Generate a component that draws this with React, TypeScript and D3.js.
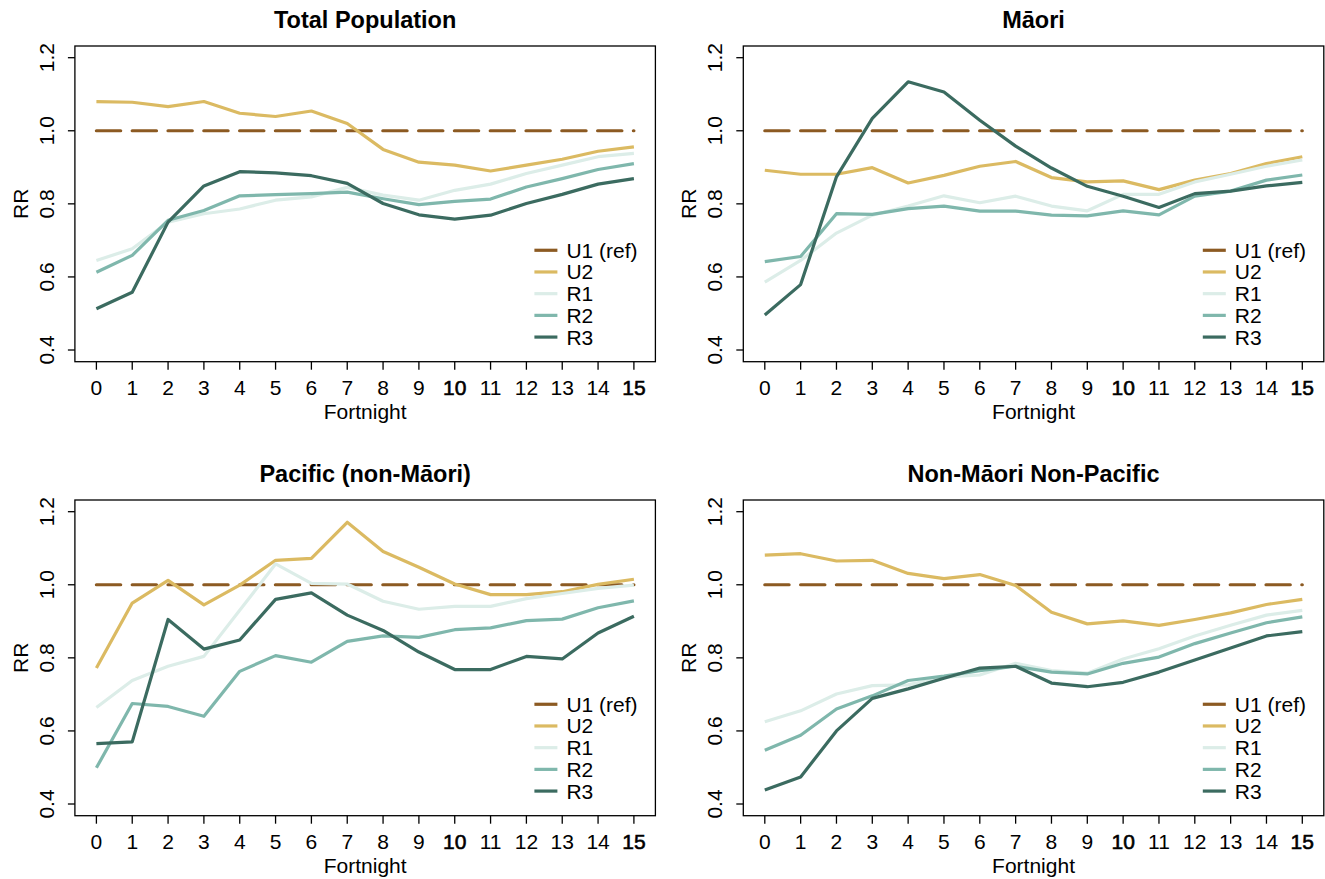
import React from "react";
import * as d3 from "d3";

const fortnights = [0, 1, 2, 3, 4, 5, 6, 7, 8, 9, 10, 11, 12, 13, 14, 15];
const yTicks = [0.4, 0.6, 0.8, 1.0, 1.2];
const seriesNames = ["U1 (ref)", "U2", "R1", "R2", "R3"];
const seriesColors = ["#8C5A22", "#DBBA62", "#DCEDE8", "#7FB7AC", "#3B6B60"];
const panelTitles = ["Total Population", "Māori", "Pacific (non-Māori)", "Non-Māori Non-Pacific"];

const refU1 = [1, 1, 1, 1, 1, 1, 1, 1, 1, 1, 1, 1, 1, 1, 1, 1];

const totalU2 = [1.080, 1.078, 1.066, 1.080, 1.048, 1.039, 1.054, 1.020, 0.949, 0.914, 0.906, 0.890, 0.906, 0.922, 0.944, 0.956];
const totalR1 = [0.645, 0.677, 0.750, 0.773, 0.786, 0.810, 0.819, 0.845, 0.824, 0.810, 0.837, 0.854, 0.883, 0.906, 0.929, 0.938];
const totalR2 = [0.613, 0.659, 0.755, 0.782, 0.822, 0.825, 0.828, 0.832, 0.814, 0.798, 0.807, 0.813, 0.846, 0.869, 0.894, 0.910];
const totalR3 = [0.513, 0.558, 0.750, 0.849, 0.888, 0.885, 0.877, 0.856, 0.801, 0.770, 0.758, 0.769, 0.801, 0.826, 0.854, 0.869];

const maoriU2 = [0.892, 0.881, 0.881, 0.899, 0.857, 0.878, 0.903, 0.916, 0.872, 0.860, 0.863, 0.839, 0.865, 0.883, 0.910, 0.929];
const maoriR1 = [0.586, 0.645, 0.720, 0.769, 0.794, 0.822, 0.803, 0.821, 0.794, 0.781, 0.826, 0.826, 0.860, 0.881, 0.903, 0.920];
const maoriR2 = [0.642, 0.656, 0.773, 0.771, 0.787, 0.794, 0.780, 0.780, 0.769, 0.767, 0.781, 0.770, 0.821, 0.835, 0.865, 0.879];
const maoriR3 = [0.496, 0.579, 0.874, 1.034, 1.134, 1.106, 1.029, 0.958, 0.898, 0.848, 0.821, 0.790, 0.828, 0.835, 0.849, 0.859];

const pacificU2 = [0.772, 0.950, 1.012, 0.945, 0.999, 1.067, 1.072, 1.171, 1.091, 1.048, 1.002, 0.973, 0.973, 0.981, 1.001, 1.015];
const pacificR1 = [0.664, 0.738, 0.777, 0.804, 0.930, 1.057, 1.004, 1.002, 0.955, 0.933, 0.941, 0.941, 0.962, 0.976, 0.990, 0.999];
const pacificR2 = [0.499, 0.675, 0.667, 0.640, 0.763, 0.806, 0.788, 0.845, 0.860, 0.856, 0.877, 0.882, 0.902, 0.906, 0.937, 0.956];
const pacificR3 = [0.565, 0.570, 0.905, 0.824, 0.849, 0.960, 0.978, 0.917, 0.875, 0.816, 0.768, 0.768, 0.804, 0.797, 0.868, 0.914];

const nmnpU2 = [1.081, 1.085, 1.065, 1.067, 1.031, 1.017, 1.028, 0.998, 0.925, 0.893, 0.901, 0.889, 0.905, 0.923, 0.946, 0.960];
const nmnpR1 = [0.625, 0.655, 0.701, 0.724, 0.726, 0.747, 0.753, 0.785, 0.765, 0.758, 0.797, 0.825, 0.860, 0.889, 0.917, 0.930];
const nmnpR2 = [0.547, 0.588, 0.660, 0.696, 0.738, 0.750, 0.765, 0.777, 0.761, 0.756, 0.785, 0.802, 0.839, 0.868, 0.896, 0.912];
const nmnpR3 = [0.438, 0.474, 0.600, 0.689, 0.715, 0.744, 0.772, 0.777, 0.731, 0.721, 0.733, 0.761, 0.794, 0.827, 0.860, 0.872];

const panelSeries = [
  [refU1, totalU2, totalR1, totalR2, totalR3],
  [refU1, maoriU2, maoriR1, maoriR2, maoriR3],
  [refU1, pacificU2, pacificR1, pacificR2, pacificR3],
  [refU1, nmnpU2, nmnpR1, nmnpR2, nmnpR3],
];

const W = 1325;
const H = 879;
const colLeft = [74.9, 743.3];
const rowTop = [46, 500];
const plotW = 580.5;
const plotH = 315.7;
const FONT = "'Liberation Sans', Arial, Helvetica, sans-serif";

function Panel({ idx }: { idx: number }) {
  const left = colLeft[idx % 2];
  const top = rowTop[Math.floor(idx / 2)];
  const x = d3.scaleLinear().domain([-0.6, 15.6]).range([left, left + plotW]);
  const y = d3.scaleLinear().domain([0.368, 1.232]).range([top + plotH, top]);
  const line = d3
    .line<number>()
    .x((_, i) => x(fortnights[i]))
    .y((d) => y(d));
  const series = panelSeries[idx];
  const right = left + plotW;
  const bottom = top + plotH;
  const cx = left + plotW / 2;
  const legX1 = right - 121;
  const legX2 = right - 98;
  const legTextX = right - 89;
  const legY0 = y(1) + 119.5;
  const legStep = 21.7;
  return (
    <g>
      <text x={cx} y={top - 18} textAnchor="middle" fontFamily={FONT} fontWeight="bold" fontSize={23.5}>
        {panelTitles[idx]}
      </text>
      {series.map((vals, si) => (
        <path
          key={si}
          d={line(vals) || ""}
          fill="none"
          stroke={seriesColors[si]}
          strokeWidth={3.2}
          strokeLinejoin="round"
          strokeLinecap={si === 0 ? "round" : "butt"}
          strokeDasharray={si === 0 ? "24.3 11.5" : undefined}
        />
      ))}
      <rect x={left} y={top} width={plotW} height={plotH} fill="none" stroke="#000" strokeWidth={1.3} />
      {fortnights.map((f) => (
        <g key={"xt" + f}>
          <line x1={x(f)} x2={x(f)} y1={bottom} y2={bottom + 8} stroke="#000" strokeWidth={1.3} />
          <text
            x={x(f)}
            y={bottom + 33}
            textAnchor="middle"
            fontFamily={FONT}
            fontSize={21}
            stroke={f === 10 || f === 15 ? "#000" : "none"}
            strokeWidth={f === 10 || f === 15 ? 0.6 : 0}
          >
            {f}
          </text>
        </g>
      ))}
      {yTicks.map((t) => (
        <g key={"yt" + t}>
          <line x1={left - 7} x2={left} y1={y(t)} y2={y(t)} stroke="#000" strokeWidth={1.3} />
          <text
            transform={`translate(${left - 21},${y(t)}) rotate(-90)`}
            textAnchor="middle"
            fontFamily={FONT}
            fontSize={21}
          >
            {t.toFixed(1)}
          </text>
        </g>
      ))}
      <text x={cx} y={bottom + 57} textAnchor="middle" fontFamily={FONT} fontSize={21}>
        Fortnight
      </text>
      <text
        transform={`translate(${left - 47},${(top + bottom) / 2}) rotate(-90)`}
        textAnchor="middle"
        fontFamily={FONT}
        fontSize={21}
      >
        RR
      </text>
      {seriesNames.map((name, si) => (
        <g key={"lg" + si}>
          <line
            x1={legX1}
            x2={legX2}
            y1={legY0 + si * legStep}
            y2={legY0 + si * legStep}
            stroke={seriesColors[si]}
            strokeWidth={3.2}
          />
          <text x={legTextX} y={legY0 + si * legStep + 7.5} fontFamily={FONT} fontSize={21}>
            {name}
          </text>
        </g>
      ))}
    </g>
  );
}

export default function App() {
  return (
    <svg
      width={W}
      height={H}
      viewBox={`0 0 ${W} ${H}`}
      style={{ position: "absolute", left: 0, top: 0, background: "#fff" }}
    >
      <rect width={W} height={H} fill="#fff" />
      {[0, 1, 2, 3].map((i) => (
        <Panel key={i} idx={i} />
      ))}
    </svg>
  );
}
